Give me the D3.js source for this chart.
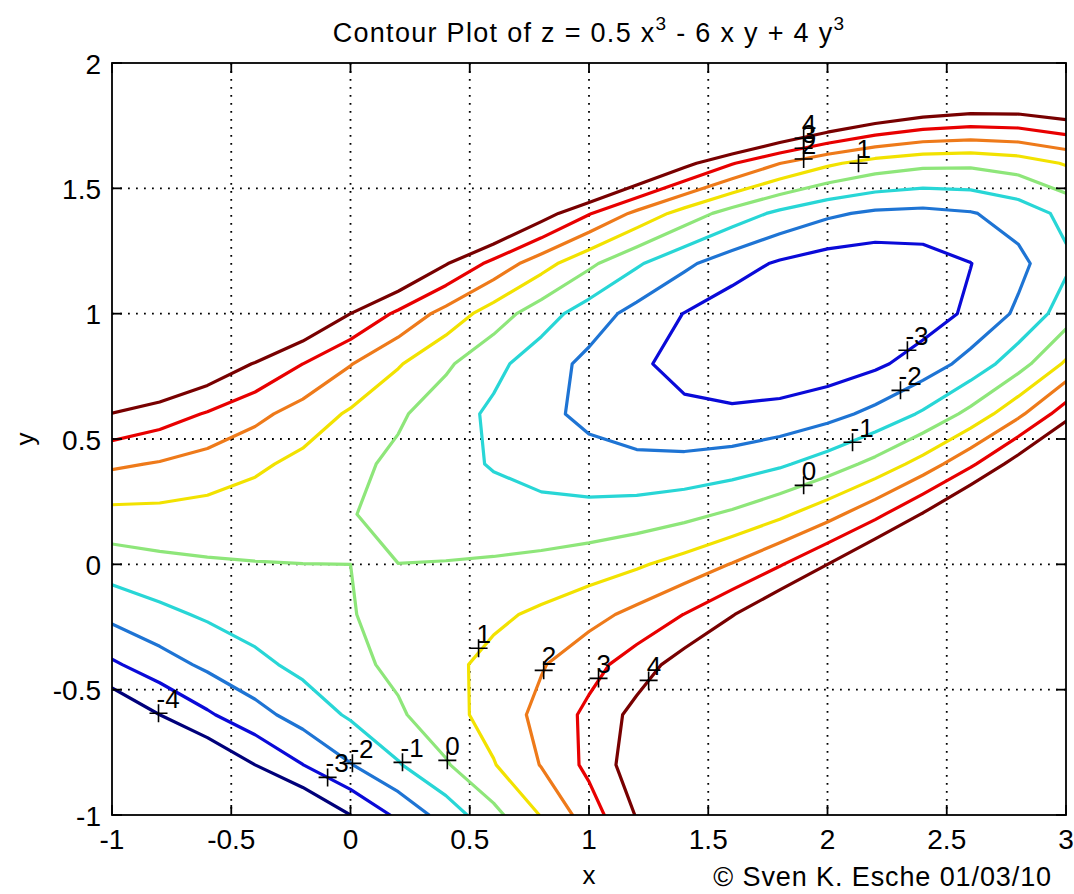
<!DOCTYPE html>
<html><head><meta charset="utf-8">
<script src="https://cdn.jsdelivr.net/npm/d3@7"></script>
<style>
body{margin:0;background:#fff}
svg{display:block}
text{font-family:"Liberation Sans",Arial,sans-serif;fill:#000}
</style>
</head><body>
<svg id="chart" width="1074" height="894"></svg>
<script>
// grid coordinates
const xGrid = [-1,-0.8,-0.6,-0.4,-0.2,0,0.2,0.4,0.6,0.8,1,1.2,1.4,1.6,1.8,2,2.2,2.4,2.6,2.8,3];
const yGrid = [-1,-0.8,-0.6,-0.4,-0.2,0,0.2,0.4,0.6,0.8,1,1.2,1.4,1.6,1.8,2];
// z values on the grid, one row per y (bottom to top)
const zRowM10 = [-10.5,-9.056,-7.708,-6.432,-5.204,-4,-2.796,-1.568,-0.292,1.056,2.5,4.064,5.772,7.648,9.716,12,14.524,17.312,20.388,23.776,27.5];
const zRowM08 = [-7.348,-6.144,-5.036,-4,-3.012,-2.048,-1.084,-0.096,0.94,2.048,3.252,4.576,6.044,7.68,9.508,11.552,13.836,16.384,19.22,22.368,25.852];
const zRowM06 = [-4.964,-4,-3.132,-2.336,-1.588,-0.864,-0.14,0.608,1.404,2.272,3.236,4.32,5.548,6.944,8.532,10.336,12.38,14.688,17.284,20.192,23.436];
const zRowM04 = [-3.156,-2.432,-1.804,-1.248,-0.74,-0.256,0.228,0.736,1.292,1.92,2.644,3.488,4.476,5.632,6.98,8.544,10.348,12.416,14.772,17.44,20.444];
const zRowM02 = [-1.732,-1.248,-0.86,-0.544,-0.276,-0.032,0.212,0.48,0.796,1.184,1.668,2.272,3.02,3.936,5.044,6.368,7.932,9.76,11.876,14.304,17.068];
const zRowP00 = [-0.5,-0.256,-0.108,-0.032,-0.004,0,0.004,0.032,0.108,0.256,0.5,0.864,1.372,2.048,2.916,4,5.324,6.912,8.788,10.976,13.5];
const zRowP02 = [0.732,0.736,0.644,0.48,0.268,0.032,-0.204,-0.416,-0.58,-0.672,-0.668,-0.544,-0.276,0.16,0.788,1.632,2.716,4.064,5.7,7.648,9.932];
const zRowP04 = [2.156,1.92,1.588,1.184,0.732,0.256,-0.22,-0.672,-1.076,-1.408,-1.644,-1.76,-1.732,-1.536,-1.148,-0.544,0.3,1.408,2.804,4.512,6.556];
const zRowP06 = [3.964,3.488,2.916,2.272,1.58,0.864,0.148,-0.544,-1.188,-1.76,-2.236,-2.592,-2.804,-2.848,-2.7,-2.336,-1.732,-0.864,0.292,1.76,3.564];
const zRowP08 = [6.348,5.632,4.82,3.936,3.004,2.048,1.092,0.16,-0.724,-1.536,-2.252,-2.848,-3.3,-3.584,-3.676,-3.552,-3.188,-2.56,-1.644,-0.416,1.148];
const zRowP10 = [9.5,8.544,7.492,6.368,5.196,4,2.804,1.632,0.508,-0.544,-1.5,-2.336,-3.028,-3.552,-3.884,-4,-3.876,-3.488,-2.812,-1.824,-0.5];
const zRowP12 = [13.612,12.416,11.124,9.76,8.348,6.912,5.476,4.064,2.7,1.408,0.212,-0.864,-1.796,-2.56,-3.132,-3.488,-3.604,-3.456,-3.02,-2.272,-1.188];
const zRowP14 = [18.876,17.44,15.908,14.304,12.652,10.976,9.3,7.648,6.044,4.512,3.076,1.76,0.588,-0.416,-1.228,-1.824,-2.18,-2.272,-2.076,-1.568,-0.724];
const zRowP16 = [25.484,23.808,22.036,20.192,18.3,16.384,14.468,12.576,10.732,8.96,7.284,5.728,4.316,3.072,2.02,1.184,0.588,0.256,0.212,0.48,1.084];
const zRowP18 = [33.628,31.712,29.7,27.616,25.484,23.328,21.172,19.04,16.956,14.944,13.028,11.232,9.58,8.096,6.804,5.728,4.892,4.32,4.036,4.064,4.428];
const zRowP20 = [43.5,41.344,39.092,36.768,34.396,32,29.604,27.232,24.908,22.656,20.5,18.464,16.572,14.848,13.316,12,10.924,10.112,9.588,9.376,9.5];

const levels = [-4,-3,-2,-1,0,1,2,3,4];
const levelColors = ["#00007a","#0a0ad8","#1e74d4","#28d6d6","#8ee67a","#f2e200","#ee7a1a","#e80000","#780000"];

// contour labels (clabel '+' positions)
const labelLevel = [4,3,2,1,0,-1,-2,-3,1,2,3,4,-4,-3,-2,-1,0];
const labelX = [1.9,1.9,1.9,2.13,1.9,2.105,2.306,2.335,0.537,0.81,1.04,1.25,-0.805,-0.096,0.008,0.218,0.406];
const labelY = [1.70,1.66,1.617,1.60,0.315,0.487,0.694,0.854,-0.335,-0.423,-0.455,-0.463,-0.594,-0.85,-0.794,-0.79,-0.782];

const xTicks = [-1,-0.5,0,0.5,1,1.5,2,2.5,3];
const yTicks = [-1,-0.5,0,0.5,1,1.5,2];

const W = 1074, H = 894;
const M = {left:112, right:1066, top:63, bottom:815};
const svg = d3.select("#chart");
svg.append("rect").attr("width",W).attr("height",H).attr("fill","#fff");

const x = d3.scaleLinear().domain([-1,3]).range([M.left,M.right]);
const y = d3.scaleLinear().domain([-1,2]).range([M.bottom,M.top]);

// grid lines (dotted)
const grid = svg.append("g");
xTicks.filter(t=>t>-1&&t<3).forEach(t=>{
  grid.append("line").attr("x1",x(t)).attr("x2",x(t)).attr("y1",M.top).attr("y2",M.bottom)
    .attr("stroke","#000").attr("stroke-width",1.8).attr("stroke-dasharray","1.8,6.2");
});
yTicks.filter(t=>t>-1&&t<2).forEach(t=>{
  grid.append("line").attr("y1",y(t)).attr("y2",y(t)).attr("x1",M.left).attr("x2",M.right)
    .attr("stroke","#000").attr("stroke-width",1.8).attr("stroke-dasharray","1.8,6.2");
});

// contours
const zRows = [zRowM10,zRowM08,zRowM06,zRowM04,zRowM02,zRowP00,zRowP02,zRowP04,zRowP06,zRowP08,zRowP10,zRowP12,zRowP14,zRowP16,zRowP18,zRowP20];
const nx = xGrid.length, ny = yGrid.length;
const values = zRows.flat();
const contours = d3.contours().size([nx,ny]).thresholds(levels)(values);
const gx = d3.scaleLinear().domain([0.5,nx-0.5]).range([xGrid[0],xGrid[nx-1]]);
const gy = d3.scaleLinear().domain([0.5,ny-0.5]).range([yGrid[0],yGrid[ny-1]]);
function isBorder(p){ return p[0]<=0 || p[0]>=nx || p[1]<=0 || p[1]>=ny; }
function splitRing(ring){
  const pts = ring.slice(0,-1);
  const n = pts.length;
  const start = pts.findIndex(isBorder);
  if (start < 0) return [ring];
  const out = []; let cur = [];
  for (let k=1;k<=n;k++){
    const p = pts[(start+k)%n];
    if (isBorder(p)) { if (cur.length>1) out.push(cur); cur = []; }
    else cur.push(p);
  }
  if (cur.length>1) out.push(cur);
  return out;
}
svg.append("clipPath").attr("id","clip").append("rect")
  .attr("x",M.left).attr("y",M.top).attr("width",M.right-M.left).attr("height",M.bottom-M.top);
const line = d3.line().x(p=>x(gx(p[0]))).y(p=>y(gy(p[1])));
const cg = svg.append("g").attr("clip-path","url(#clip)");
contours.forEach((c,i)=>{
  const lines = [];
  c.coordinates.forEach(poly=>poly.forEach(ring=>splitRing(ring).forEach(l=>lines.push(l))));
  lines.forEach(l=>{
    cg.append("path").attr("d",line(l)).attr("fill","none")
      .attr("stroke",levelColors[i]).attr("stroke-width",3.2)
      .attr("stroke-linejoin","round").attr("stroke-linecap","round");
  });
});

// axes box and ticks
const ax = svg.append("g");
ax.append("rect").attr("x",M.left).attr("y",M.top).attr("width",M.right-M.left).attr("height",M.bottom-M.top)
  .attr("fill","none").attr("stroke","#000").attr("stroke-width",1.8);
const TL = 10;
xTicks.forEach(t=>{
  ax.append("line").attr("x1",x(t)).attr("x2",x(t)).attr("y1",M.bottom).attr("y2",M.bottom-TL).attr("stroke","#000").attr("stroke-width",1.8);
  ax.append("line").attr("x1",x(t)).attr("x2",x(t)).attr("y1",M.top).attr("y2",M.top+TL).attr("stroke","#000").attr("stroke-width",1.8);
  ax.append("text").attr("x",x(t)).attr("y",M.bottom+34).attr("text-anchor","middle")
    .attr("font-size",28).text(String(t));
});
yTicks.forEach(t=>{
  ax.append("line").attr("x1",M.left).attr("x2",M.left+TL).attr("y1",y(t)).attr("y2",y(t)).attr("stroke","#000").attr("stroke-width",1.8);
  ax.append("line").attr("x1",M.right).attr("x2",M.right-TL).attr("y1",y(t)).attr("y2",y(t)).attr("stroke","#000").attr("stroke-width",1.8);
  ax.append("text").attr("x",M.left-11).attr("y",y(t)+10.5).attr("text-anchor","end")
    .attr("font-size",28).text(String(t));
});

// contour labels
const lg = svg.append("g");
labelLevel.forEach((lv,i)=>{
  const px = x(labelX[i]), py = y(labelY[i]);
  lg.append("path").attr("d",`M${px-9},${py}H${px+9}M${px},${py-9}V${py+9}`)
    .attr("stroke","#000").attr("stroke-width",1.6).attr("fill","none");
  lg.append("text").attr("x",px-2).attr("y",py-5).attr("font-size",26).text(String(lv));
});

// title and labels
const title = svg.append("text").attr("x",(M.left+M.right)/2).attr("y",42).attr("text-anchor","middle")
  .attr("font-size",27).attr("letter-spacing",1.3);
title.append("tspan").text("Contour Plot of z = 0.5 x");
title.append("tspan").attr("dy",-12).attr("font-size",19).text("3");
title.append("tspan").attr("dy",12).text(" - 6 x y + 4 y");
title.append("tspan").attr("dy",-12).attr("font-size",19).text("3");

svg.append("text").attr("x",(M.left+M.right)/2).attr("y",884).attr("text-anchor","middle").attr("font-size",26).text("x");
svg.append("text").attr("transform",`translate(34,${(M.top+M.bottom)/2}) rotate(-90)`).attr("text-anchor","middle").attr("font-size",26).text("y");
svg.append("text").attr("x",1052).attr("y",886).attr("text-anchor","end").attr("font-size",27)
  .attr("letter-spacing",0.9).text("\u00A9 Sven K. Esche 01/03/10");
</script>
</body></html>
